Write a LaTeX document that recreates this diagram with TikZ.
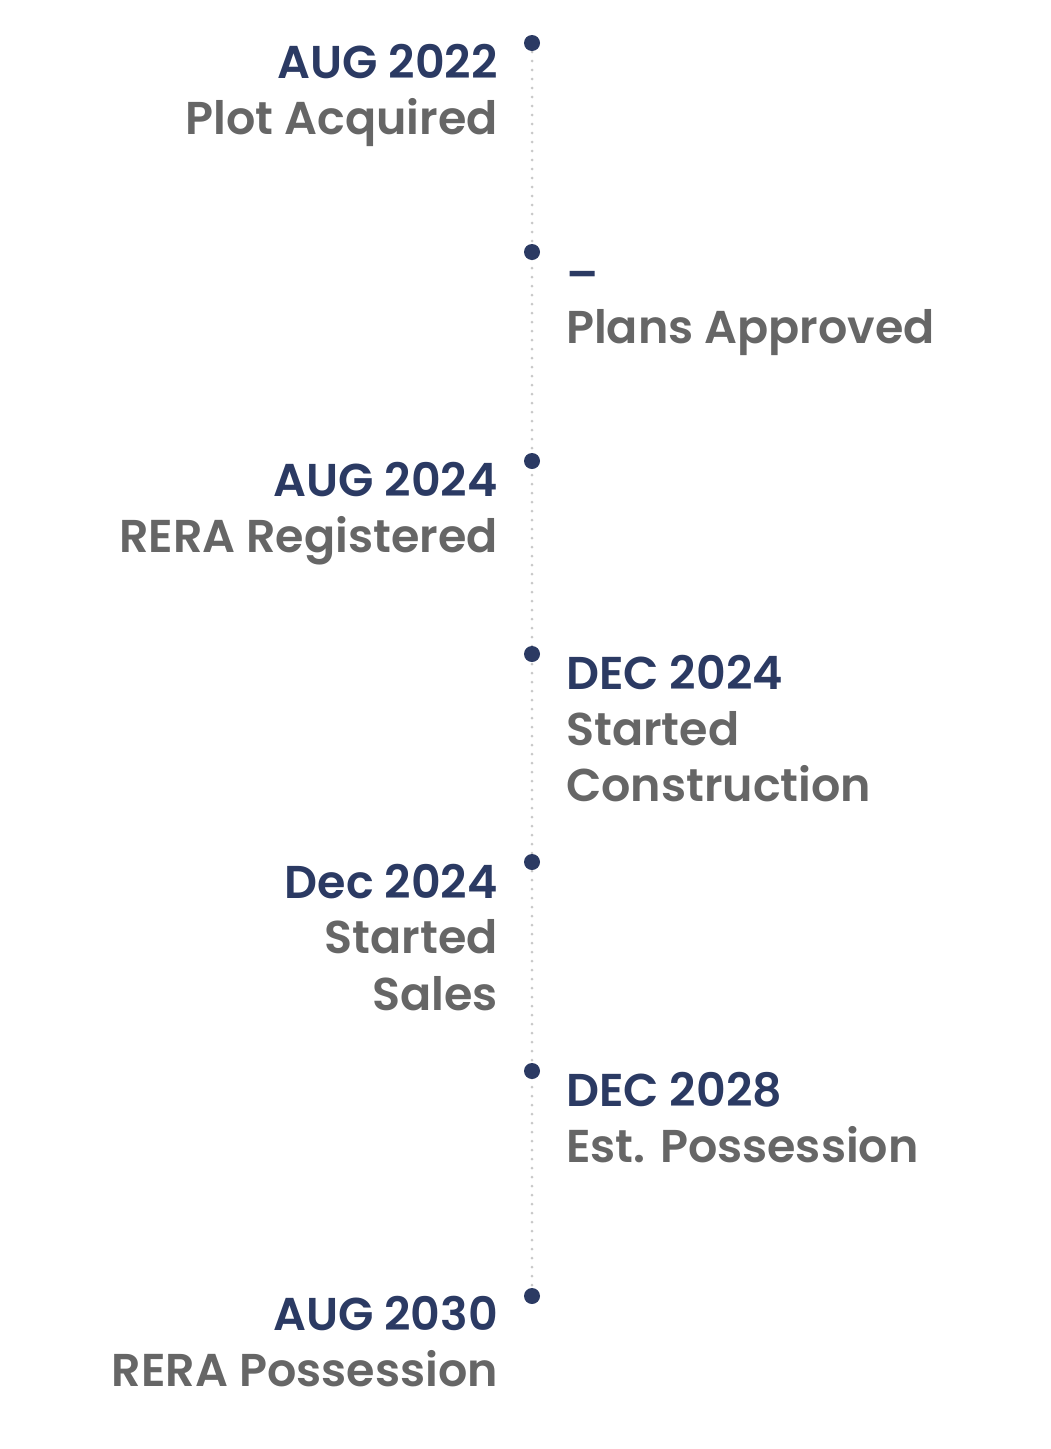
\documentclass[tikz,border=0pt]{standalone}
\usepackage{fontspec}
\setmainfont{Poppins}[BoldFont=* SemiBold]
\definecolor{navy}{HTML}{2B3A63}
\definecolor{greyt}{HTML}{666666}
\definecolor{linec}{HTML}{C8C8C8}
\begin{document}
\begin{tikzpicture}[x=1pt,y=-1pt,
  ttl/.style={font=\fontsize{46}{50}\selectfont\bfseries,text=navy,inner sep=0pt},
  sub/.style={font=\fontsize{46}{50}\selectfont\bfseries,text=greyt,inner sep=0pt},
  L/.style={anchor=base east},R/.style={anchor=base west},
  dot/.style={circle,fill=navy,inner sep=0pt,minimum size=16pt}]
\useasboundingbox (0,0) rectangle (1051,1449);
\foreach \n/\y in {d1/43,d2/252,d3/461,d4/654,d5/862,d6/1071,d7/1296}
  \coordinate (\n) at (532,\y);
\draw[linec,line width=3pt,dash pattern=on 0pt off 9pt,line cap=round] (d1) -- (d7);
\foreach \n in {d1,d2,d3,d4,d5,d6,d7} \node[dot] at (\n) {};
\node[ttl,L] (t1) at (498,78) {AUG 2022};
\node[sub,L] (s1) at (498,134) {Plot Acquired};
\node[ttl,R] (t2) at (566,290) {–};
\node[sub,R] (s2) at (566,343) {Plans Approved};
\node[ttl,L] (t3) at (498,496) {AUG 2024};
\node[sub,L] (s3) at (498,552) {RERA Registered};
\node[ttl,R] (t4) at (566,689) {DEC 2024};
\node[sub,R] (s4a) at (566,745) {Started};
\node[sub,R] (s4b) at (566,801) {Construction};
\node[ttl,L] (t5) at (498,898) {Dec 2024};
\node[sub,L] (s5a) at (498,953) {Started};
\node[sub,L] (s5b) at (498,1010) {Sales};
\node[ttl,R] (t6) at (566,1106) {DEC 2028};
\node[sub,R] (s6) at (566,1162) {Est. Possession};
\node[ttl,L] (t7) at (498,1330) {AUG 2030};
\node[sub,L] (s7) at (498,1386) {RERA Possession};
\end{tikzpicture}
\end{document}
